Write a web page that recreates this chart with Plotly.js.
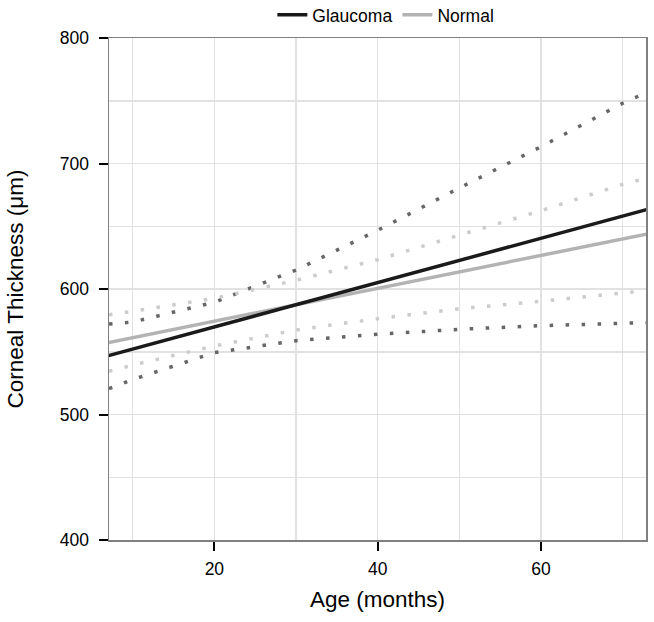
<!DOCTYPE html>
<html>
<head>
<meta charset="utf-8">
<script src="https://cdn.plot.ly/plotly-3.0.1.min.js"></script>
<style>
  html, body { margin: 0; padding: 0; background: #ffffff; }
  #chart { width: 654px; height: 622px; }
</style>
</head>
<body>
<div id="chart"></div>
<script>
const ageFit = [7, 73];
const glaucomaFit = [546.8, 663.4];
const normalFit = [557.3, 643.8];

const ageBand = [7.1, 10, 20, 30, 40, 50, 60, 70, 72.85];
const glaucomaUpper = [572.1, 573.7, 589.4, 615.1, 646.8, 680.5, 713.4, 748.0, 756.4];
const glaucomaLower = [520.6, 527.8, 549.3, 558.8, 563.9, 567.9, 570.8, 572.5, 573.2];
const normalUpper = [579.5, 582.2, 592.6, 606.9, 623.4, 643.0, 662.4, 683.4, 688.2];
const normalLower = [534.4, 539.4, 554.6, 567.3, 576.4, 584.3, 590.2, 596.3, 598.7];

const groupNames = ['Glaucoma', 'Normal'];
const xTickVals = [20, 40, 60];
const yTickVals = [400, 500, 600, 700, 800];

const dotDash = '3.5px,12.5px';

const traces = [
  { x: ageBand, y: glaucomaUpper, mode: 'lines', showlegend: false, hoverinfo: 'skip',
    line: { color: '#666666', width: 3.5, dash: dotDash } },
  { x: ageBand, y: glaucomaLower, mode: 'lines', showlegend: false, hoverinfo: 'skip',
    line: { color: '#666666', width: 3.5, dash: dotDash } },
  { x: ageBand, y: normalUpper, mode: 'lines', showlegend: false, hoverinfo: 'skip',
    line: { color: '#cccccc', width: 3.5, dash: dotDash } },
  { x: ageBand, y: normalLower, mode: 'lines', showlegend: false, hoverinfo: 'skip',
    line: { color: '#cccccc', width: 3.5, dash: dotDash } },
  { x: ageFit, y: normalFit, mode: 'lines', name: groupNames[1],
    line: { color: '#b3b3b3', width: 3.5 } },
  { x: ageFit, y: glaucomaFit, mode: 'lines', name: groupNames[0],
    line: { color: '#1a1a1a', width: 3.5 } }
];

const gridColor = '#e2e2e2';
const layout = {
  width: 654, height: 622,
  paper_bgcolor: '#ffffff', plot_bgcolor: '#ffffff',
  margin: { l: 109, r: 8, t: 38, b: 82, pad: 0, autoexpand: false },
  font: { family: 'Liberation Sans, Arial, sans-serif', color: '#000000', size: 17.5 },
  showlegend: true,
  legend: {
    orientation: 'h', xref: 'container', yref: 'container',
    x: 0.59, xanchor: 'center', y: 0.976, yanchor: 'middle',
    traceorder: 'reversed', font: { size: 17.5, color: '#000000' },
    bgcolor: 'rgba(0,0,0,0)', itemclick: false
  },
  xaxis: {
    range: [7.1, 72.85], autorange: false,
    tickvals: xTickVals, ticktext: xTickVals.map(String),
    ticks: 'outside', ticklen: 9, tickwidth: 2, tickcolor: '#000000',
    ticklabelstandoff: 3,
    tickfont: { size: 17.5, color: '#000000' },
    showgrid: true, gridcolor: gridColor, gridwidth: 1.5,
    minor: { dtick: 10, tick0: 0, showgrid: true, gridcolor: gridColor, gridwidth: 1.5, ticks: '' },
    showline: true, linecolor: '#808080', linewidth: 1.5, mirror: true,
    zeroline: false, automargin: false,
    title: { text: 'Age (months)', font: { size: 22.5, color: '#000000' }, standoff: 13 }
  },
  yaxis: {
    range: [400, 800], autorange: false,
    tickvals: yTickVals, ticktext: yTickVals.map(String),
    ticks: 'outside', ticklen: 9, tickwidth: 2, tickcolor: '#000000',
    ticklabelstandoff: 6,
    tickfont: { size: 17.5, color: '#000000' },
    showgrid: true, gridcolor: gridColor, gridwidth: 1.5,
    minor: { dtick: 50, tick0: 0, showgrid: true, gridcolor: gridColor, gridwidth: 1.5, ticks: '' },
    showline: true, linecolor: '#808080', linewidth: 1.5, mirror: true,
    zeroline: false, automargin: false,
    title: { text: 'Corneal Thickness (μm)', font: { size: 22.5, color: '#000000' }, standoff: 30 }
  }
};

Plotly.newPlot('chart', traces, layout, { displayModeBar: false, staticPlot: true });
</script>
</body>
</html>
